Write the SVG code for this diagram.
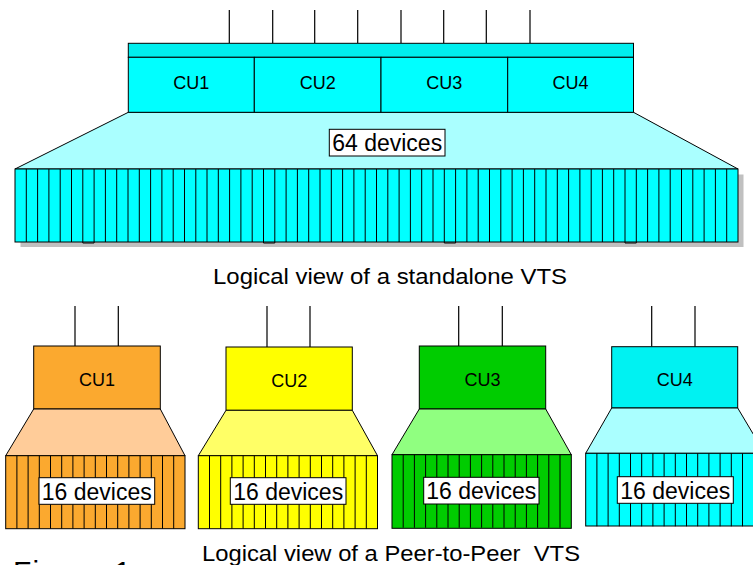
<svg xmlns="http://www.w3.org/2000/svg" xmlns:xlink="http://www.w3.org/1999/xlink" width="753" height="565" viewBox="0 0 753 565">
<style>
text{font-family:"Liberation Sans",Arial,Helvetica,sans-serif;fill:#000}
.ln{stroke:#000;stroke-width:1.2;fill:none}
.bx{stroke:#000;stroke-width:1}
.cu{font-size:18px;text-anchor:middle}
.dv{font-size:23px;text-anchor:middle}
.cap{font-size:22px;text-anchor:middle}
.lab{fill:#fff;stroke:#000;stroke-width:1}
.st{stroke:#000;stroke-width:1;fill:none}
</style>
<defs>
<path id="s16" d="M11.2 0V73M22.4 0V73M33.6 0V73M44.8 0V73M56 0V73M67.2 0V73M78.4 0V73M89.6 0V73M100.8 0V73M112 0V73M123.2 0V73M134.4 0V73M145.6 0V73M156.8 0V73M168 0V73"/>
</defs>
<rect width="753" height="565" fill="#fff"/>

<g id="connectors">
<path class="ln" d="M229.3 10V43M272.7 10V43M314.7 10V43M357.7 10V43M401 10V43M443.7 10V43M486.3 10V43M530 10V43"/>
<path class="ln" d="M75 306V346M118.3 306V346M267 306V347M310 306V347M458.7 306V346M502.3 306V346M651.7 306V346.7M695 306V346.7"/>
</g>

<g id="standalone-vts">
<g id="top-bar"><rect class="bx" x="128.3" y="43.3" width="505.2" height="14" fill="#00EEEE"/></g>
<g id="top-fan"><path class="bx" d="M128.3 112.3H633.5L738 169H15Z" fill="#AAFFFF"/></g>
<g id="top-cu1"><rect class="bx" x="128.3" y="57.3" width="126" height="55" fill="#00FFFF"/><text class="cu" x="191.3" y="89">CU1</text></g>
<g id="top-cu2"><rect class="bx" x="254.3" y="57.3" width="126.7" height="55" fill="#00FFFF"/><text class="cu" x="317.7" y="88.5">CU2</text></g>
<g id="top-cu3"><rect class="bx" x="381" y="57.3" width="126.7" height="55" fill="#00FFFF"/><text class="cu" x="444.3" y="88.5">CU3</text></g>
<g id="top-cu4"><rect class="bx" x="507.7" y="57.3" width="125.8" height="55" fill="#00FFFF"/><text class="cu" x="570.6" y="89">CU4</text></g>
<g id="top-devices">
<rect x="20.5" y="174.5" width="723" height="72.5" fill="#C0C0C0"/>
<rect class="bx" x="15" y="169" width="723" height="73" fill="#00FFFF"/>
<path class="st" d="M26.3 169V242M37.6 169V242M48.9 169V242M60.2 169V242M71.5 169V242M82.8 169V243M94.1 169V243M105.4 169V242M116.7 169V242M128 169V242M139.3 169V242M150.6 169V242M161.9 169V242M173.2 169V242M184.5 169V242M195.8 169V242M207 169V242M218.3 169V242M229.6 169V242M240.9 169V242M252.2 169V242M263.5 169V243M274.8 169V243M286.1 169V242M297.4 169V242M308.7 169V242M320 169V242M331.3 169V242M342.6 169V242M353.9 169V242M365.2 169V242M376.5 169V242M387.8 169V242M399.1 169V242M410.4 169V242M421.7 169V242M433 169V242M444.3 169V243M455.6 169V243M466.9 169V242M478.2 169V242M489.5 169V242M500.8 169V242M512.1 169V242M523.4 169V242M534.7 169V242M546 169V242M557.3 169V242M568.6 169V242M579.9 169V242M591.2 169V242M602.4 169V242M613.7 169V242M625 169V243M636.3 169V243M647.6 169V242M658.9 169V242M670.2 169V242M681.5 169V242M692.8 169V242M704.1 169V242M715.4 169V242M726.7 169V242M82.8 243H94.1M263.5 243H274.8M444.3 243H455.6M625 243H636.3"/>
<rect class="lab" x="329.3" y="129.3" width="115.7" height="26.7"/>
<text class="dv" x="387.2" y="151">64 devices</text>
</g>
<text class="cap" x="390" y="284" textLength="354" lengthAdjust="spacingAndGlyphs">Logical view of a standalone VTS</text>
</g>

<g id="unit-cu1">
<rect class="bx" x="33.7" y="346" width="126.6" height="63" fill="#FBA92F"/>
<text class="cu" x="97" y="386">CU1</text>
<path class="bx" d="M33.7 409H160.3L185 455.7H5.7Z" fill="#FFCC99"/>
<rect class="bx" x="5.7" y="455.7" width="179.3" height="73" fill="#FBA92F"/>
<use xlink:href="#s16" x="5.7" y="455.7" class="st"/>
<rect class="lab" x="39" y="477.7" width="115.7" height="26.6"/>
<text class="dv" x="96.8" y="499.5">16 devices</text>
</g>

<g id="unit-cu2">
<rect class="bx" x="226" y="347" width="126.3" height="63.3" fill="#FFFF00"/>
<text class="cu" x="289.2" y="386.5">CU2</text>
<path class="bx" d="M226 410.3H352.3L377.5 455.7H198.3Z" fill="#FFFF66"/>
<rect class="bx" x="198.3" y="455.7" width="179.2" height="73" fill="#FFFF00"/>
<use xlink:href="#s16" x="198.3" y="455.7" class="st"/>
<rect class="lab" x="230.3" y="477.7" width="115.7" height="26.6"/>
<text class="dv" x="288.2" y="499.5">16 devices</text>
</g>

<g id="unit-cu3">
<rect class="bx" x="419.3" y="346" width="126.4" height="63" fill="#00CC00"/>
<text class="cu" x="482.5" y="385.8">CU3</text>
<path class="bx" d="M419.3 409H545.7L571.3 454.7H392Z" fill="#90FF80"/>
<rect class="bx" x="392" y="454.7" width="179.3" height="73.6" fill="#00CC00"/>
<use xlink:href="#s16" x="392" y="454.7" class="st"/>
<rect class="lab" x="423.7" y="477.3" width="115.3" height="26.7"/>
<text class="dv" x="481.3" y="499">16 devices</text>
</g>

<g id="unit-cu4">
<rect class="bx" x="611.7" y="346.7" width="126" height="61.3" fill="#00F2F2"/>
<text class="cu" x="674.7" y="386">CU4</text>
<path class="bx" d="M611.7 408H737.7L764.7 453.3H585.7Z" fill="#AAFFFF"/>
<rect class="bx" x="585.7" y="453.3" width="179.2" height="72.7" fill="#00FFFF"/>
<use xlink:href="#s16" x="585.7" y="453.3" class="st"/>
<rect class="lab" x="617.3" y="476.7" width="116" height="26.6"/>
<text class="dv" x="675.3" y="498.7">16 devices</text>
</g>

<text class="cap" x="391" y="561" xml:space="preserve" textLength="378" lengthAdjust="spacingAndGlyphs">Logical view of a Peer-to-Peer  VTS</text>
<text x="13" y="582" font-size="30" xml:space="preserve" textLength="118" lengthAdjust="spacing">Figure 1</text>
</svg>
